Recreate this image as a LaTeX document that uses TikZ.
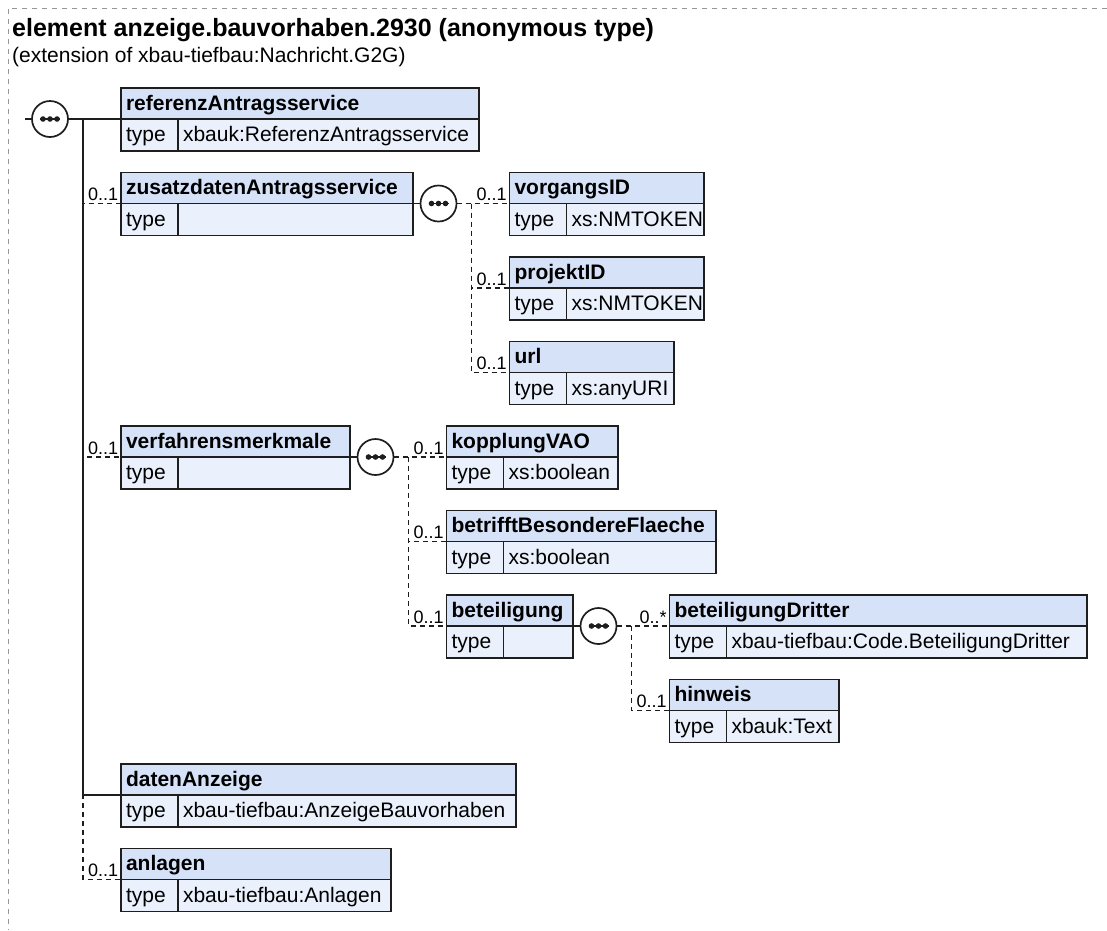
\documentclass[tikz,border=0pt]{standalone}
\usepackage{fontspec}
\setmainfont{Liberation Sans}
\definecolor{HeadBlue}{RGB}{214,226,248}
\definecolor{TypeBlue}{RGB}{234,241,252}
\definecolor{FrameGray}{RGB}{150,150,150}
\definecolor{LineDark}{RGB}{30,30,30}
\usetikzlibrary{positioning}
\newcommand{\boxfont}{\fontsize{21}{25}\selectfont}
\newcommand{\multfont}{\fontsize{18}{21}\selectfont}
\newcommand{\xsdelem}[5]{%
  \pgfmathsetmacro{\hdw}{#3-10}%
  \pgfmathsetmacro{\valw}{#3-67}%
  \node[elhead,text width=\hdw pt,anchor=north west] (#1) at (#2) {#4};
  \node[eltype,anchor=north west] (#1t) at (#1.south west) {type};
  \node[elvalue,text width=\valw pt,right=0pt of #1t] (#1v) {#5};}
\newcommand{\xsdseq}[2]{%
  \node[seqsym] (#1) at (#2) {};
  \draw[conn] ([xshift=-10pt]#1.center) -- ([xshift=10pt]#1.center);
  \foreach \dx in {-7,0,7}
    \fill[LineDark] ([xshift=\dx pt]#1.center) circle (2.8pt);}

\begin{document}
\begin{tikzpicture}[x=1pt,y=-1pt,
  elhead/.style={draw=LineDark,line width=1.4pt,fill=HeadBlue,outer sep=0pt,inner xsep=5pt,inner ysep=0pt,
    minimum height=31pt,align=left,text height=15pt,text depth=2pt,font=\boxfont\bfseries},
  eltype/.style={draw=LineDark,line width=1.4pt,fill=TypeBlue,outer sep=0pt,inner xsep=5pt,inner ysep=0pt,
    minimum height=32pt,text width=47pt,align=left,text height=15pt,text depth=2pt,font=\boxfont},
  elvalue/.style={eltype},
  seqsym/.style={circle,draw=LineDark,line width=1.7pt,fill=white,minimum size=36pt,inner sep=0pt,outer sep=0pt},
  conn/.style={line width=1.6pt,draw=LineDark},
  opt/.style={conn,dash pattern=on 5pt off 4pt},
  mult/.style={font=\multfont,inner sep=0pt,anchor=base east,xshift=-2pt,yshift=3pt},
  frame/.style={draw=FrameGray,line width=1pt,dash pattern=on 5pt off 5pt}]
  \useasboundingbox (0,0) rectangle (1107,930);
  \draw[frame] (1107,8) -- (8,8) -- (8,930);
  \node[anchor=base west,inner sep=0pt,font=\fontsize{25}{29}\selectfont\bfseries] (title) at (12,36)
    {element anzeige.bauvorhaben.2930 (anonymous type)};
  \node[anchor=base west,inner sep=0pt,font=\boxfont] (subtitle) at (12,62)
    {(extension of xbau-tiefbau:Nachricht.G2G)};

  \xsdelem{ref}{121,88}{358}{referenzAntragsservice}{xbauk:ReferenzAntragsservice}
  \xsdelem{zus}{121,172.5}{292}{zusatzdatenAntragsservice}{}
  \xsdelem{vorg}{509.5,172.5}{194.5}{vorgangsID}{xs:NMTOKEN}
  \xsdelem{proj}{509.5,257}{194.5}{projektID}{xs:NMTOKEN}
  \xsdelem{url}{509.5,341.5}{164.5}{url}{xs:anyURI}
  \xsdelem{verf}{121,426}{229}{verfahrensmerkmale}{}
  \xsdelem{kopp}{446.5,426}{171.5}{kopplungVAO}{xs:boolean}
  \xsdelem{betr}{446.5,510.5}{269.5}{betrifftBesondereFlaeche}{xs:boolean}
  \xsdelem{beteil}{446.5,595}{126.5}{beteiligung}{}
  \xsdelem{dritt}{669.5,595}{417.5}{beteiligungDritter}{xbau-tiefbau:Code.BeteiligungDritter}
  \xsdelem{hinw}{669.5,679.5}{169.5}{hinweis}{xbauk:Text}
  \xsdelem{daten}{121,764}{395}{datenAnzeige}{xbau-tiefbau:AnzeigeBauvorhaben}
  \xsdelem{anl}{121,848.5}{270}{anlagen}{xbau-tiefbau:Anlagen}

  \coordinate (start) at (25,119);
  \coordinate (t1) at (83,119);
  \draw[conn] (start) -- (ref.south west);
  \draw[conn] (t1) |- (daten.south west);
  \draw[opt] (t1) |- (zus.south west) node[mult] {0..1};
  \draw[opt] (t1) |- (verf.south west) node[mult] {0..1};
  \draw[opt] (t1) |- (anl.south west) node[mult] {0..1};
  \xsdseq{s1}{50,119}

  \coordinate (j2) at (471.5,203.5);
  \draw[conn] (zus.south east) -- ++(25.5,0) coordinate (c2);
  \draw[opt] (c2) -- (vorg.south west) node[mult] {0..1};
  \draw[opt] (j2) |- (proj.south west) node[mult] {0..1};
  \draw[opt] (j2) |- (url.south west) node[mult] {0..1};
  \xsdseq{s2}{c2}

  \coordinate (j3) at (408.5,457);
  \draw[conn] (verf.south east) -- ++(25.5,0) coordinate (c3);
  \draw[opt] (c3) -- (kopp.south west) node[mult] {0..1};
  \draw[opt] (j3) |- (betr.south west) node[mult] {0..1};
  \draw[opt] (j3) |- (beteil.south west) node[mult] {0..1};
  \xsdseq{s3}{c3}

  \coordinate (j4) at (631.5,626);
  \draw[conn] (beteil.south east) -- ++(25.5,0) coordinate (c4);
  \draw[opt] (c4) -- (dritt.south west) node[mult] {0..*};
  \draw[opt] (j4) |- (hinw.south west) node[mult] {0..1};
  \xsdseq{s4}{c4}
\end{tikzpicture}
\end{document}
